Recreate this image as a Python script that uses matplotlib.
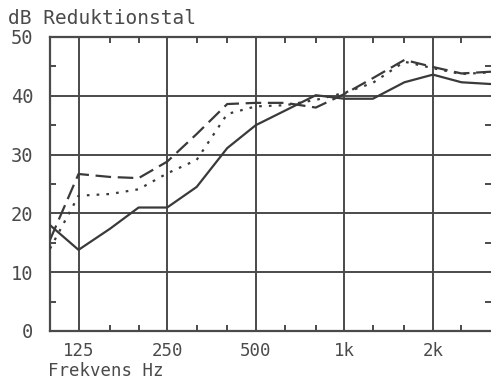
'''
Reduktionstal vs. frekvens (1/3-oktav)
'''

import numpy as np
import matplotlib
matplotlib.use("Agg")
import matplotlib.pyplot as plt
from matplotlib.ticker import FixedLocator, NullFormatter

# 1/3-octave band centre frequencies (Hz)
freqs = [100, 125, 160, 200, 250, 315, 400, 500, 630, 800,
         1000, 1250, 1600, 2000, 2500, 3150]

# reduction index (dB) for the three constructions
r_solid = [18.0, 13.8, 17.4, 21.0, 21.0, 24.5, 31.1, 35.0, 37.5, 40.1,
           39.5, 39.5, 42.3, 43.6, 42.3, 42.0]
r_dashed = [15.5, 26.7, 26.2, 26.0, 28.8, 33.5, 38.6, 38.8, 38.8, 38.0,
            40.3, 43.0, 46.1, 44.9, 43.8, 44.1]
r_dotted = [14.0, 23.0, 23.3, 24.1, 26.8, 29.1, 36.9, 38.2, 38.4, 39.3,
            40.5, 42.2, 45.8, 44.7, 43.7, 44.0]

x_major = [125, 250, 500, 1000, 2000]
x_labels = ["125", "250", "500", "1k", "2k"]
x_minor = [160, 200, 315, 400, 630, 800, 1250, 1600, 2500]
y_major = [0, 10, 20, 30, 40, 50]
y_minor = [5, 15, 25, 35, 45]

ink = "#4a4a4a"
line_ink = "#3a3a3a"
font = dict(family="DejaVu Sans Mono", color=ink)

W, H = 491, 379
fig = plt.figure(figsize=(W / 100, H / 100), dpi=100, facecolor="white")
ax = fig.add_axes([50 / W, 1 - 331 / H, 1 - 50 / W, (331 - 37) / H])

ax.plot(freqs, r_solid, color=line_ink, lw=1.6, ls="-", zorder=3)
ax.plot(freqs, r_dashed, color=line_ink, lw=1.6, ls=(0, (7, 3)), zorder=3)
ax.plot(freqs, r_dotted, color=line_ink, lw=1.6, ls=(0, (1.2, 3.2)), zorder=3)

ax.set_xscale("log")
ax.set_xlim(100, 3150)
ax.set_ylim(0, 50)

ax.xaxis.set_major_locator(FixedLocator(x_major))
ax.set_xticklabels(x_labels)
ax.xaxis.set_minor_locator(FixedLocator(x_minor))
ax.xaxis.set_minor_formatter(NullFormatter())
ax.yaxis.set_major_locator(FixedLocator(y_major))
ax.yaxis.set_minor_locator(FixedLocator(y_minor))

ax.grid(True, which="major", color=ink, lw=1.4)
ax.set_axisbelow(True)

for sp in ["left", "top", "bottom"]:
    ax.spines[sp].set_color(ink)
    ax.spines[sp].set_linewidth(1.6)
ax.spines["right"].set_visible(False)

ax.tick_params(which="major", length=0, labelcolor=ink)
ax.tick_params(axis="y", which="major", pad=12, labelsize=13.5)
ax.tick_params(axis="x", which="major", pad=8, labelsize=12.5)
ax.tick_params(which="minor", direction="in", length=4.5, width=1.4,
               color=ink, top=True, bottom=True, left=True, right=True)
for lab in ax.get_xticklabels() + ax.get_yticklabels():
    lab.set_family("DejaVu Sans Mono")

fig.text(8 / W, 1 - 19 / H, "dB Reduktionstal", fontsize=14,
         va="center", ha="left", **font)
fig.text(48 / W, 1 - 362 / H, "Frekvens Hz", fontsize=12.5,
         va="top", ha="left", **font)

fig.savefig("out.png", dpi=100, facecolor="white")
